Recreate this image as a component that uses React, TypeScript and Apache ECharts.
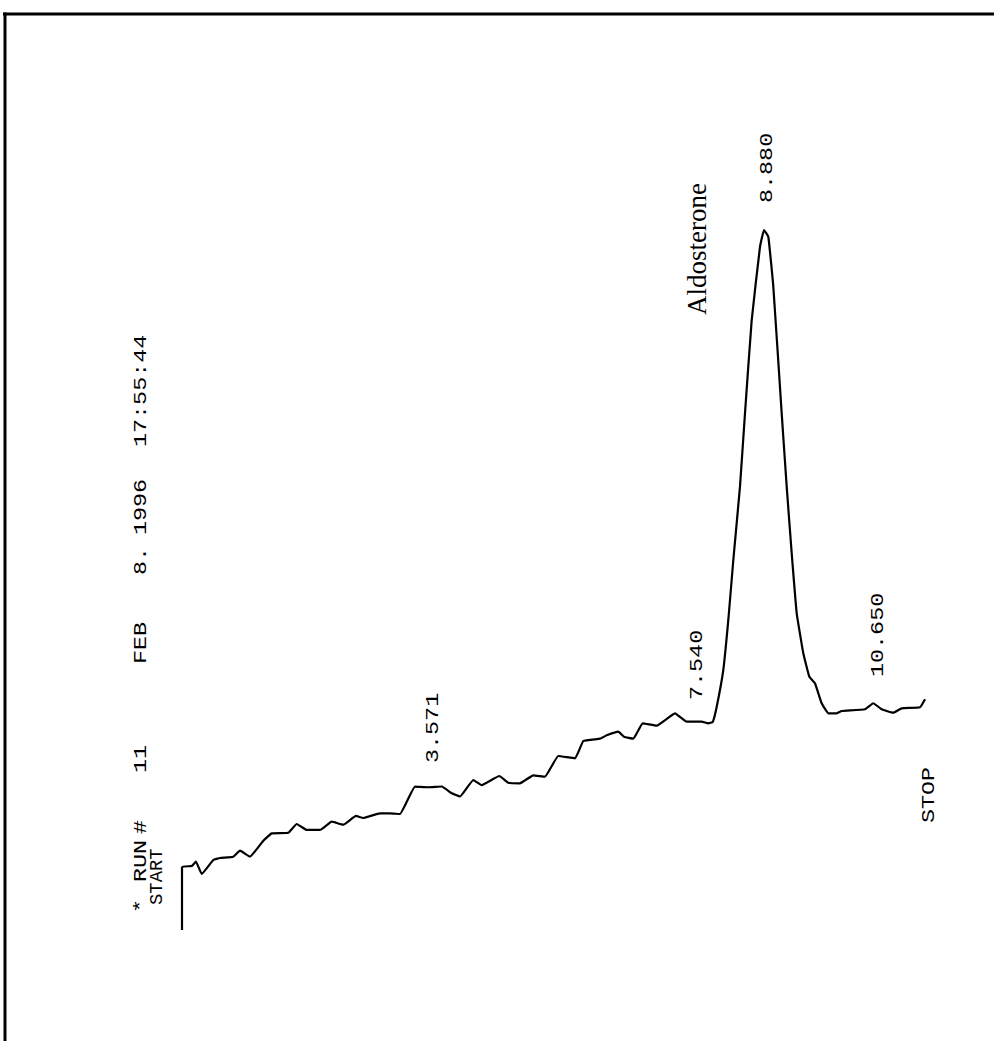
import React, { useEffect, useRef } from "react";
import * as echarts from "echarts";

// Retention time (min) and detector signal (arbitrary units)
const times = [
  0, 0, 0.147, 0.212, 0.299, 0.475, 0.577, 0.778, 0.88, 1.032, 1.234, 1.361, 1.613, 1.741,
  1.892, 2.094, 2.272, 2.448, 2.64, 2.751, 3.005, 3.156, 3.308, 3.536, 3.737, 3.941, 4.093,
  4.219, 4.42, 4.548, 4.815, 4.951, 5.129, 5.331, 5.508, 5.71, 5.964, 6.09, 6.343, 6.445,
  6.621, 6.707, 6.848, 6.991, 7.203, 7.481, 7.659, 7.886, 7.986, 8.053, 8.114, 8.214, 8.29,
  8.366, 8.467, 8.543, 8.645, 8.771, 8.832, 8.897, 8.973, 9.1, 9.176, 9.252, 9.328, 9.428,
  9.519, 9.605, 9.707, 9.807, 9.935, 10.011, 10.364, 10.49, 10.617, 10.794, 10.921, 11.199,
  11.275,
];
const signal = [
  0, 9.0, 9.14, 9.76, 8.0, 10.0, 10.29, 10.47, 11.33, 10.47, 12.76, 13.81, 13.9, 15.14,
  14.29, 14.29, 15.47, 15.04, 16.29, 16.0, 16.67, 16.67, 16.57, 20.47, 20.39, 20.5, 19.53,
  19.07, 21.43, 20.71, 22.0, 21.04, 20.96, 22.1, 21.9, 24.86, 24.53, 27.0, 27.33, 27.81,
  28.33, 27.61, 27.33, 29.53, 29.19, 30.96, 29.76, 29.76, 29.53, 29.71, 31.9, 37.14, 44.29,
  52.86, 63.33, 73.81, 87.14, 97.61, 100, 99.04, 91.9, 73.81, 63.33, 53.81, 45.24, 39.53,
  36.19, 35.24, 32.39, 30.96, 30.96, 31.29, 31.53, 32.39, 31.53, 31.04, 31.67, 31.81, 32.96,
];

const headerWords = ["*", "RUN", "#", "11", "FEB", "8.", "1996", "17:55:44"];
const peakLabels = ["3.571", "7.540", "8.880", "10.650"];
const compoundName = "Aldosterone";
const startLabel = "START";
const stopLabel = "STOP";

const MONO = '"Liberation Mono", "DejaVu Sans Mono", monospace';

function vText(text: string, x: number, y: number, font: string, scaleX = 1.3) {
  return {
    type: "text",
    x,
    y,
    rotation: Math.PI / 2,
    scaleX,
    style: {
      text,
      font,
      fill: "#000",
      textAlign: "left",
      textVerticalAlign: "middle",
      align: "left",
      verticalAlign: "middle",
    },
  };
}

export default function App() {
  const ref = useRef<HTMLDivElement>(null);
  useEffect(() => {
    if (!ref.current) return;
    const chart = echarts.init(ref.current, undefined, { renderer: "svg" });
    const data = times.map((t, i) => [t, signal[i]]);
    const headerBottoms = [913, 882, 834, 773, 664, 575, 535, 447];
    const peakPos = [
      [433, 763],
      [697, 700],
      [767, 203],
      [878, 677],
    ];
    const monoFont = `18px ${MONO}`;
    const graphic: any[] = [
      { type: "line", shape: { x1: 3, y1: 14, x2: 994, y2: 14 }, style: { stroke: "#000", lineWidth: 3 } },
      { type: "line", shape: { x1: 5, y1: 12.5, x2: 5, y2: 1041 }, style: { stroke: "#000", lineWidth: 3 } },
    ];
    headerWords.forEach((w, i) => graphic.push(vText(w, 141, headerBottoms[i], monoFont)));
    graphic.push(vText(startLabel, 158, 905, monoFont, 1.05));
    peakLabels.forEach((w, i) => graphic.push(vText(w, peakPos[i][0], peakPos[i][1], monoFont)));
    graphic.push(vText(stopLabel, 929, 823, monoFont));
    graphic.push(vText(compoundName, 697, 315, '27px "Liberation Serif", "Times New Roman", serif', 1));

    chart.setOption({
      animation: false,
      backgroundColor: "#fff",
      grid: { left: 182, top: 230, width: 12 * 65.9, height: 700 },
      xAxis: { type: "value", min: 0, max: 12, show: false },
      yAxis: { type: "value", min: 0, max: 100, show: false },
      series: [
        {
          type: "line",
          data,
          showSymbol: false,
          clip: false,
          smooth: 0.1,
          lineStyle: { color: "#000", width: 2.2 },
        },
      ],
      graphic,
    });
    return () => chart.dispose();
  }, []);
  return (
    <div
      ref={ref}
      style={{ position: "fixed", left: 0, top: 0, width: 994, height: 1041, background: "#fff" }}
    />
  );
}
